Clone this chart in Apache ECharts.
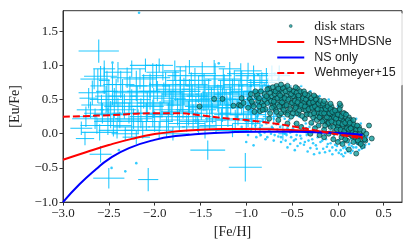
<!DOCTYPE html>
<html><head><meta charset="utf-8">
<script src="https://cdn.jsdelivr.net/npm/echarts@6/dist/echarts.min.js"></script>
<style>html,body{margin:0;padding:0;background:#fff}#c{width:407px;height:244px}</style>
</head><body><div id="c"></div>
<script>
// Halo stars with error bars: [Fe/H, Eu/Fe, errFeH, errEuFe]
var haloStars = [
[-2.61,1.21,0.22,0.17],[-2.59,0.84,0.18,0.15],[-2.53,0.50,0.18,0.20],[-2.52,0.62,0.12,0.30],
[-2.46,0.72,0.10,0.30],[-2.62,0.70,0.08,0.25],[-2.55,0.78,0.06,0.20],[-2.10,1.00,0.17,0.10],
[-2.20,0.70,0.12,0.22],[-2.35,0.55,0.15,0.25],[-2.40,0.35,0.20,0.18],[-2.70,0.35,0.15,0.12],
[-2.65,0.22,0.25,0.15],[-2.45,0.12,0.20,0.16],[-2.80,0.08,0.12,0.10],[-2.60,0.02,0.20,0.12],
[-2.38,0.20,0.25,0.12],[-2.25,0.10,0.20,0.15],[-2.15,0.30,0.18,0.22],[-2.05,0.55,0.22,0.20],
[-1.98,0.82,0.15,0.20],[-1.92,0.42,0.20,0.18],[-1.85,0.25,0.22,0.20],[-1.80,0.65,0.18,0.25],
[-1.78,0.92,0.12,0.15],[-1.70,0.48,0.20,0.15],[-1.65,0.15,0.20,0.12],[-1.60,0.72,0.18,0.18],
[-1.55,0.35,0.22,0.20],[-1.48,0.88,0.15,0.17],[-1.45,0.55,0.20,0.22],[-1.40,0.20,0.18,0.15],
[-1.35,0.68,0.20,0.18],[-1.30,0.42,0.18,0.20],[-1.25,0.80,0.20,0.15],[-1.20,0.28,0.15,0.18],
[-1.18,0.95,0.12,0.10],[-1.15,0.58,0.20,0.22],[-1.10,0.38,0.18,0.15],[-1.05,0.72,0.20,0.20],
[-1.00,0.15,0.15,0.12],[-0.97,0.50,0.18,0.20],[-0.92,0.85,0.20,0.15],[-0.88,0.32,0.15,0.18],
[-0.85,0.62,0.18,0.22],[-0.78,0.78,0.20,0.18],[-0.75,0.45,0.15,0.15],[-0.70,0.25,0.12,0.12],
[-0.65,0.70,0.15,0.20],[-0.60,0.00,0.05,0.10],[-2.30,0.82,0.18,0.15],[-2.25,0.45,0.22,0.20],
[-2.00,0.18,0.20,0.15],[-2.12,0.62,0.18,0.25],[-1.90,0.60,0.20,0.15],[-1.75,0.32,0.18,0.20],
[-1.62,0.55,0.20,0.25],[-1.52,0.10,0.18,0.12],[-1.38,0.48,0.18,0.20],[-1.28,0.60,0.20,0.18],
[-1.12,0.20,0.20,0.15],[-0.95,0.40,0.15,0.20],[-1.05,0.50,0.22,0.22],[-2.48,0.28,0.18,0.20],
[-2.32,0.00,0.15,0.10],[-2.18,0.18,0.20,0.18],[-2.08,0.40,0.18,0.22],[-1.95,0.05,0.15,0.12],
[-1.82,0.45,0.20,0.18],[-1.68,0.62,0.18,0.20],[-1.58,0.25,0.20,0.18],[-1.43,0.38,0.20,0.22],
[-1.33,0.12,0.18,0.12],[-1.22,0.45,0.20,0.20],[-1.08,0.60,0.18,0.18],[-0.82,0.52,0.18,0.20],
[-0.90,0.18,0.12,0.15],[-2.58,0.42,0.22,0.15],[-2.42,0.62,0.15,0.18],[-2.28,0.30,0.18,0.15],
[-2.72,0.52,0.10,0.15],[-1.52,0.65,0.18,0.20],[-1.72,0.78,0.15,0.20],[-2.02,0.30,0.20,0.20],
[-1.88,0.72,0.18,0.18],[-1.47,0.48,0.20,0.15],[-1.18,0.70,0.15,0.22],[-0.98,0.28,0.20,0.18],
[-0.72,0.88,0.18,0.12],[-0.62,0.55,0.12,0.15],
[-2.68,0.60,0.15,0.18],[-2.63,0.12,0.18,0.12],[-2.57,0.30,0.20,0.15],[-2.51,0.18,0.15,0.20],
[-2.44,0.45,0.18,0.22],[-2.41,0.05,0.20,0.12],[-2.37,0.72,0.15,0.20],[-2.33,0.40,0.22,0.18],
[-2.27,0.60,0.18,0.25],[-2.23,0.22,0.20,0.15],[-2.19,0.50,0.15,0.20],[-2.16,0.80,0.18,0.15],
[-2.13,0.05,0.20,0.12],[-2.09,0.25,0.18,0.20],[-2.05,0.70,0.22,0.18],[-2.01,0.45,0.18,0.22],
[-1.97,0.62,0.20,0.15],[-1.94,0.28,0.15,0.20],[-1.91,0.90,0.18,0.12],[-1.87,0.10,0.20,0.15],
[-1.84,0.52,0.18,0.20],[-1.81,0.35,0.20,0.18],[-1.77,0.70,0.15,0.22],[-1.73,0.20,0.20,0.15],
[-1.69,0.42,0.18,0.20],[-1.66,0.85,0.20,0.15],[-1.63,0.30,0.15,0.18],[-1.59,0.50,0.20,0.22],
[-1.56,0.78,0.18,0.18],[-1.53,0.18,0.20,0.15],[-1.49,0.40,0.18,0.20],[-1.46,0.70,0.20,0.18],
[-1.41,0.58,0.15,0.22],[-1.37,0.30,0.20,0.15],[-1.34,0.85,0.18,0.18],[-1.31,0.52,0.20,0.20],
[-1.27,0.22,0.18,0.15],[-1.24,0.65,0.20,0.22],[-1.21,0.38,0.15,0.18],[-1.17,0.48,0.20,0.20],
[-1.13,0.78,0.18,0.15],[-1.09,0.30,0.20,0.18],[-1.06,0.88,0.15,0.15],[-1.03,0.42,0.20,0.20],
[-0.99,0.62,0.18,0.22],[-0.94,0.22,0.15,0.15],[-0.91,0.70,0.18,0.18],[-0.87,0.45,0.20,0.20],
[-0.83,0.75,0.15,0.15],[-0.79,0.35,0.18,0.18],[-0.76,0.62,0.15,0.20],[-0.68,0.50,0.15,0.18],
[-0.64,0.85,0.12,0.15],[-2.75,0.25,0.12,0.15],[-2.66,0.80,0.15,0.15],[-2.55,0.95,0.12,0.12],
[-2.40,0.90,0.15,0.15],[-2.25,0.95,0.15,0.12],[-1.95,1.00,0.15,0.10],[-1.62,0.98,0.15,0.10],
[-1.35,0.98,0.12,0.10],[-0.98,0.92,0.15,0.12],[-2.20,-0.05,0.15,0.10],[-1.80,0.00,0.18,0.10],
[-1.45,0.05,0.15,0.12],[-1.15,0.05,0.18,0.10],[-0.85,0.08,0.15,0.12],[-2.50,0.55,0.15,0.25],
[-2.02,0.85,0.12,0.18],[-1.72,0.58,0.20,0.25],[-1.26,0.42,0.22,0.25],[-0.95,0.55,0.20,0.25],
[-2.76,-0.07,0.10,0.10],[-2.50,-0.65,0.17,0.15],[-2.07,-0.67,0.11,0.17],[-1.42,-0.24,0.19,0.14],
[-1.01,-0.49,0.18,0.21],[-2.59,-0.30,0.12,0.12]
];
// small cyan points
var smallStars = [
[-2.17,1.77],[-1.30,1.03],[-2.46,1.04],[-0.87,0.86],[-0.69,0.88],[-2.47,-0.50],[-2.32,-0.55],
[-2.20,-0.43],[-2.39,-0.24],[-1.00,-0.12],[-0.92,-0.17],[-1.05,0.10],[-1.10,0.25],
[-0.75,0.05],[-0.69,-0.02],[-0.58,0.00],[-0.57,-0.10],[-0.51,-0.05],[-0.48,-0.10],[-0.40,-0.07],
[-0.30,-0.21],[-0.24,-0.17],[-0.19,-0.12],[-0.12,-0.19],[-0.08,-0.14],[0.06,-0.21],[0.03,-0.24],
[0.13,-0.14],[-0.95,0.05],[-0.90,0.12],[-0.85,0.08],[-0.82,0.20],[-0.80,0.02],[-0.78,0.15],
[-0.72,0.10],[-0.70,0.22],[-0.66,0.06],[-0.64,0.18],[-0.62,-0.05],[-0.60,0.12],[-0.55,0.08],
[-0.53,0.20],[-0.50,0.03],[-0.47,0.15],[-0.45,-0.02],[-0.43,0.10],[-0.42,0.25],[-0.38,0.05],
[-0.36,-0.12],[-0.35,0.15],[-0.33,0.00],[-0.31,0.10],[-0.28,-0.08],[-0.27,0.20],[-0.26,0.04],
[-0.22,-0.05],[-0.21,0.12],[-0.18,0.00],[-0.16,-0.22],[-0.15,0.08],[-0.13,-0.08],[-0.10,0.02],
[-0.09,-0.25],[-0.07,0.10],[-0.05,-0.06],[-0.03,-0.16],[-0.02,0.05],[0.00,-0.10],[0.01,-0.28],
[0.02,0.00],[0.04,-0.14],[0.05,0.06],[0.07,-0.06],[0.08,-0.19],[0.09,0.00],[0.10,-0.10],
[0.11,-0.26],[0.12,-0.03],[0.14,-0.08],[0.15,-0.18],[0.16,0.02],[0.18,-0.12],[0.19,-0.05],
[0.20,-0.20],[0.22,-0.08],[0.24,-0.14],[0.25,-0.02],[0.26,-0.22],[0.28,-0.10],[0.30,-0.16],
[0.32,-0.05],[0.30,-0.10],[-0.95,0.70],[-0.80,0.72],[-0.65,0.80],[-0.55,0.75],[-0.40,0.70],
[-0.30,0.62],[-0.20,0.55],[-0.10,0.50],[0.00,0.40],[0.10,0.30],[0.20,0.22],[0.25,0.15],
[-0.45,0.55],[-0.25,0.35],[-0.05,0.25],[0.15,0.10],[-0.88,0.25],[-0.77,-0.05],[-0.60,0.30],
[-0.52,-0.15],[-0.44,-0.18],[-0.34,-0.02],[-0.20,-0.28],[-0.06,-0.30],[0.06,-0.33],
[-0.98,-0.02],[-0.93,0.15],[-0.89,-0.05],[-0.86,0.02],[-0.83,0.12],[-0.79,-0.08],[-0.76,0.18],
[-0.73,0.00],[-0.71,0.08],[-0.67,0.14],[-0.65,-0.04],[-0.63,0.10],[-0.59,0.05],[-0.56,-0.02],
[-0.54,0.12],[-0.52,0.02],[-0.49,0.08],[-0.46,-0.08],[-0.44,0.04],[-0.41,-0.03],[-0.39,0.12],
[-0.37,-0.16],[-0.34,0.08],[-0.32,-0.10],[-0.29,0.02],[-0.27,-0.14],[-0.25,0.10],[-0.23,-0.22],
[-0.20,0.04],[-0.17,-0.10],[-0.14,-0.02],[-0.11,-0.15],[-0.08,0.04],[-0.06,-0.20],[-0.04,-0.02],
[-0.01,-0.18],[0.02,-0.08],[0.04,-0.30],[0.06,-0.12],[0.09,-0.22],[0.12,-0.16],[0.14,-0.28],
[0.17,-0.20],[0.19,-0.10],[0.21,-0.15],[0.23,-0.24],[0.27,-0.12],[0.29,-0.20],[0.31,-0.10],
[0.34,-0.15],[-0.68,0.28],[-0.58,0.22],[-0.48,0.26],[-0.38,0.22],[-0.28,0.14],[-0.18,0.16],
[-0.08,0.16],[0.02,0.12],[0.12,0.02],[0.22,0.00],
[-0.62,-0.12],[-0.55,-0.20],[-0.47,-0.24],[-0.41,-0.14],[-0.33,-0.26],[-0.26,-0.30],[-0.14,-0.27],
[-0.02,-0.24],[0.08,-0.28],[0.16,-0.25],[0.26,-0.18],[-0.70,-0.10],[-0.84,-0.02]
];
// disk stars
var diskStars = [
[-1.51,0.40],[-1.35,0.51],[-1.26,0.51],[-1.14,0.41],[-1.08,0.42],[-1.06,0.41],[-1.05,0.52],
[-1.03,0.45],[-0.96,0.51],[-0.89,0.55],[-0.88,0.57],[-0.83,0.45],[-0.85,0.33],[-0.81,0.41],
[-0.76,0.52],[-0.98,0.38],[-0.93,0.44],[-0.91,0.32],[-0.87,0.48],[-0.84,0.62],[-0.80,0.58],
[-0.79,0.36],[-0.77,0.45],[-0.75,0.66],[-0.74,0.30],[-0.72,0.55],[-0.71,0.42],[-0.70,0.62],
[-0.69,0.50],[-0.68,0.35],[-0.67,0.70],[-0.66,0.43],[-0.65,0.58],[-0.64,0.27],[-0.63,0.48],
[-0.62,0.64],[-0.61,0.38],[-0.60,0.53],[-0.59,0.44],[-0.58,0.68],[-0.57,0.31],[-0.56,0.56],
[-0.55,0.47],[-0.54,0.61],[-0.53,0.40],[-0.52,0.52],[-0.51,0.25],[-0.50,0.63],[-0.49,0.45],
[-0.48,0.35],[-0.47,0.57],[-0.46,0.50],[-0.45,0.41],[-0.44,0.66],[-0.43,0.29],[-0.42,0.53],
[-0.41,0.44],[-0.40,0.60],[-0.39,0.48],[-0.38,0.36],[-0.37,0.55],[-0.36,0.22],[-0.35,0.42],
[-0.34,0.51],[-0.33,0.30],[-0.32,0.46],[-0.31,0.58],[-0.30,0.38],[-0.29,0.16],[-0.28,0.49],
[-0.27,0.33],[-0.26,0.42],[-0.25,0.54],[-0.24,0.26],[-0.23,0.37],[-0.22,0.46],[-0.21,0.12],
[-0.20,0.31],[-0.19,0.40],[-0.18,0.22],[-0.17,0.41],[-0.16,0.35],[-0.15,0.06],[-0.14,0.28],
[-0.13,0.44],[-0.12,0.18],[-0.11,0.33],[-0.10,0.24],[-0.09,0.38],[-0.08,0.10],[-0.07,0.29],
[-0.06,0.20],[-0.05,0.35],[-0.04,0.02],[-0.03,0.26],[-0.02,0.14],[-0.01,0.31],[0.00,0.20],
[0.01,0.08],[0.02,0.27],[0.03,0.41],[0.03,0.15],[0.04,-0.05],[0.05,0.22],[0.06,0.10],
[0.07,0.30],[0.08,0.03],[0.09,0.18],[0.10,-0.10],[0.11,0.12],[0.12,-0.23],[0.12,0.24],
[0.13,0.05],[0.14,-0.02],[0.15,0.16],[0.16,0.08],[0.17,-0.12],[0.18,0.02],[0.19,0.11],
[0.20,-0.29],[0.21,-0.05],[0.22,0.05],[0.23,-0.13],[0.24,0.00],[0.25,-0.08],[0.27,-0.18],
[0.28,0.04],[0.30,-0.10],[0.34,0.12],[0.37,-0.07],
[-0.69,0.58],[-0.62,0.52],[-0.58,0.40],[-0.54,0.32],[-0.49,0.55],[-0.45,0.30],[-0.41,0.38],
[-0.37,0.45],[-0.33,0.40],[-0.30,0.48],[-0.27,0.24],[-0.24,0.44],[-0.21,0.30],[-0.18,0.35],
[-0.15,0.20],[-0.12,0.30],[-0.09,0.22],[-0.06,0.28],[-0.03,0.16],[0.00,0.10],[0.03,0.22],
[0.06,0.18],[0.09,0.08],[0.12,0.14],[0.15,0.04],[0.18,-0.05],[-0.73,0.48],[-0.80,0.50],
[-0.86,0.40],[-0.94,0.47],[-0.70,0.40],[-0.60,0.60],[-0.47,0.42],[-0.43,0.50],[-0.35,0.34],
[-0.29,0.42],[-0.23,0.52],[-0.19,0.26],[-0.14,0.38],[-0.11,0.14],[-0.07,0.40],[-0.04,0.30],
[0.01,0.34],[0.05,0.00],[0.08,0.25],[0.11,0.00],[0.14,0.20],[0.17,0.14],[0.20,0.06],
[0.23,0.10],[0.26,-0.03],
[-0.95,0.58],[-0.92,0.40],[-0.90,0.62],[-0.86,0.52],[-0.82,0.35],[-0.78,0.55],[-0.74,0.60],
[-0.72,0.38],[-0.71,0.68],[-0.70,0.47],[-0.68,0.62],[-0.67,0.32],[-0.66,0.52],[-0.65,0.66],
[-0.64,0.40],[-0.63,0.56],[-0.62,0.30],[-0.61,0.46],[-0.60,0.67],[-0.59,0.35],[-0.58,0.52],
[-0.57,0.62],[-0.56,0.42],[-0.55,0.28],[-0.54,0.50],[-0.53,0.65],[-0.52,0.36],[-0.51,0.58],
[-0.50,0.45],[-0.49,0.30],[-0.48,0.62],[-0.47,0.48],[-0.46,0.38],[-0.45,0.60],[-0.44,0.46],
[-0.43,0.56],[-0.42,0.34],[-0.41,0.62],[-0.40,0.42],[-0.39,0.26],[-0.38,0.52],[-0.37,0.62],
[-0.36,0.40],[-0.35,0.50],[-0.34,0.28],[-0.33,0.56],[-0.32,0.36],[-0.31,0.45],[-0.30,0.28],
[-0.29,0.52],[-0.28,0.38],[-0.27,0.46],[-0.26,0.30],[-0.25,0.40],[-0.24,0.50],[-0.23,0.20],
[-0.22,0.36],[-0.21,0.44],[-0.20,0.24],[-0.19,0.48],[-0.18,0.30],[-0.17,0.18],[-0.16,0.44],
[-0.15,0.30],[-0.14,0.12],[-0.13,0.36],[-0.12,0.24],[-0.11,0.40],[-0.10,0.16],[-0.09,0.30],
[-0.08,0.36],[-0.07,0.18],[-0.06,0.32],[-0.05,0.10],[-0.04,0.24],[-0.03,0.34],[-0.02,0.22],
[-0.01,0.06],[0.00,0.28],[0.01,0.16],[0.02,0.36],[0.03,0.06],[0.04,0.26],[0.05,0.14],
[0.06,0.30],[0.07,0.04],[0.08,0.16],[0.09,0.28],[0.10,0.08],[0.11,0.20],[0.12,0.06],
[0.13,0.16],[0.14,0.08],[0.16,-0.04],[0.17,0.20],[0.19,0.00],[0.21,0.12],[0.22,-0.10],
[0.24,0.06],[0.25,-0.15],[0.27,-0.04],[0.29,-0.08],[0.31,0.00],[-0.26,0.56],[-0.15,0.48],
[-0.36,0.58],[-0.55,0.70],[-0.62,0.72],[-0.77,0.65],[-0.46,0.68],[-0.08,0.44],[0.02,0.44],
[-0.40,0.10],[-0.35,0.05],[-0.30,0.00],[-0.25,0.08],[-0.20,-0.02],[-0.15,-0.05],[-0.10,0.00],
[-0.05,-0.08],[0.00,-0.12],[0.05,-0.15],[0.08,-0.08],[-0.45,0.15],[-0.55,0.15],[-0.65,0.20],
[-0.75,0.22]
];
// model curves
var nsMhdFeH = [-3.0,-2.75,-2.5,-2.25,-2.0,-1.75,-1.5,-1.25,-1.0,-0.75,-0.5,-0.25,0.0,0.15,0.27];
var nsMhdEu  = [-0.38,-0.27,-0.165,-0.075,-0.005,0.035,0.058,0.068,0.07,0.065,0.055,0.035,0.01,-0.02,-0.05];
var nsOnlyFeH = [-3.0,-2.82,-2.64,-2.5,-2.28,-2.0,-1.74,-1.49,-1.2,-0.85,-0.5,-0.2,0.0,0.15,0.27];
var nsOnlyEu  = [-1.0,-0.74,-0.52,-0.37,-0.21,-0.09,-0.03,0.00,0.02,0.03,0.03,0.02,0.01,0.0,-0.02];
var wehFeH = [-3.0,-2.5,-2.0,-1.75,-1.5,-1.25,-1.0,-0.75,-0.5,-0.25,0.0,0.27];
var wehEu  = [0.25,0.27,0.30,0.30,0.27,0.23,0.20,0.16,0.11,0.05,-0.01,-0.07];
var xTicks = [-3.0,-2.5,-2.0,-1.5,-1.0,-0.5,0.0,0.5];
var yTicks = [-1.0,-0.5,0.0,0.5,1.0,1.5];

function pairs(a,b){return a.map(function(v,i){return [v,b[i]];});}
function fmt(v){return (v<0?'\u2212':'')+Math.abs(v).toFixed(1);}
var serif = 'Liberation Serif';
var solidIcon = 'path://M0,0M27,10M0,4L27,4L27,6L0,6Z';
var dashIcon = 'path://M0,0M27,10M0,4h7v2h-7zM10,4h7v2h-7zM20,4h7v2h-7z';
var chart = echarts.init(document.getElementById('c'));
chart.setOption({
  animation:false,
  grid:{left:59,right:5,top:10.7,bottom:37.3,show:true,borderColor:'#333',borderWidth:1,backgroundColor:'transparent'},
  xAxis:{type:'value',min:xTicks[0],max:0.7,interval:0.5,
    axisLine:{show:true,onZero:false,lineStyle:{color:'#333',width:1}},
    axisTick:{show:true,length:3.5,lineStyle:{color:'#333'},customValues:xTicks},
    axisLabel:{color:'#222',fontFamily:serif,fontSize:13,margin:5,formatter:fmt,customValues:xTicks},
    splitLine:{show:false},
    name:'[Fe/H]',nameLocation:'middle',nameGap:22,nameTextStyle:{color:'#222',fontFamily:serif,fontSize:14}},
  yAxis:{type:'value',min:yTicks[0],max:1.8,interval:0.5,
    axisLine:{show:true,onZero:false,lineStyle:{color:'#333',width:1}},
    axisTick:{show:true,length:3.5,lineStyle:{color:'#333'},customValues:yTicks},
    axisLabel:{color:'#222',fontFamily:serif,fontSize:13,margin:5,formatter:fmt,customValues:yTicks},
    splitLine:{show:false},
    name:'[Eu/Fe]',nameLocation:'middle',nameGap:41,nameTextStyle:{color:'#222',fontFamily:serif,fontSize:14}},
  legend:{orient:'vertical',left:268,top:13,padding:[6,8,6,9],itemWidth:27,itemHeight:10,itemGap:2.5,
    backgroundColor:'rgba(255,255,255,0.8)',borderWidth:0,borderRadius:3,
    textStyle:{color:'#222',fontFamily:'Liberation Sans',fontSize:12.5,lineHeight:13,padding:[0,0,0,5]},
    data:[
      {name:'disk stars',icon:'path://M0,0M27,10M12,5a1.5,1.5 0 1,0 3,0a1.5,1.5 0 1,0 -3,0',
       itemStyle:{color:'#139c9c',borderColor:'#0a3030',borderWidth:0.5},
       textStyle:{fontFamily:serif,fontSize:13.5}},
      {name:'NS+MHDSNe',icon:solidIcon,itemStyle:{color:'#ff0000',borderWidth:0}},
      {name:'NS only',icon:solidIcon,itemStyle:{color:'#0000ff',borderWidth:0}},
      {name:'Wehmeyer+15',icon:dashIcon,itemStyle:{color:'#ff0000',borderWidth:0}}
    ]},
  series:[
    {type:'custom',name:'halo',data:haloStars,encode:{x:0,y:1},z:2,
     renderItem:function(params,api){
       var x=api.value(0),y=api.value(1),ex=api.value(2),ey=api.value(3);
       var l=api.coord([x-ex,y]),r=api.coord([x+ex,y]),t=api.coord([x,y+ey]),b=api.coord([x,y-ey]);
       var st={stroke:'rgba(0,191,255,0.85)',lineWidth:1.1};
       return {type:'group',children:[
         {type:'line',shape:{x1:l[0],y1:l[1],x2:r[0],y2:r[1]},style:st},
         {type:'line',shape:{x1:t[0],y1:t[1],x2:b[0],y2:b[1]},style:st}]};
     }},
    {type:'scatter',name:'small',data:smallStars,symbol:'circle',symbolSize:2.6,z:3,
     itemStyle:{color:'#00bfff'}},
    {type:'scatter',name:'disk stars',data:diskStars,symbol:'circle',symbolSize:5,z:4,
     itemStyle:{color:'#139c9c',borderColor:'#0a3030',borderWidth:0.8}},
    {type:'line',name:'NS+MHDSNe',data:pairs(nsMhdFeH,nsMhdEu),smooth:0.5,symbol:'none',z:5,
     lineStyle:{color:'#ff0000',width:2},itemStyle:{color:'#ff0000'}},
    {type:'line',name:'NS only',data:pairs(nsOnlyFeH,nsOnlyEu),smooth:0.5,symbol:'none',z:5,
     lineStyle:{color:'#0000ff',width:2},itemStyle:{color:'#0000ff'}},
    {type:'line',name:'Wehmeyer+15',data:pairs(wehFeH,wehEu),smooth:0.5,symbol:'none',z:5,
     lineStyle:{color:'#ff0000',width:2,type:[7,3]},itemStyle:{color:'#ff0000'}}
  ]
});
</script></body></html>
